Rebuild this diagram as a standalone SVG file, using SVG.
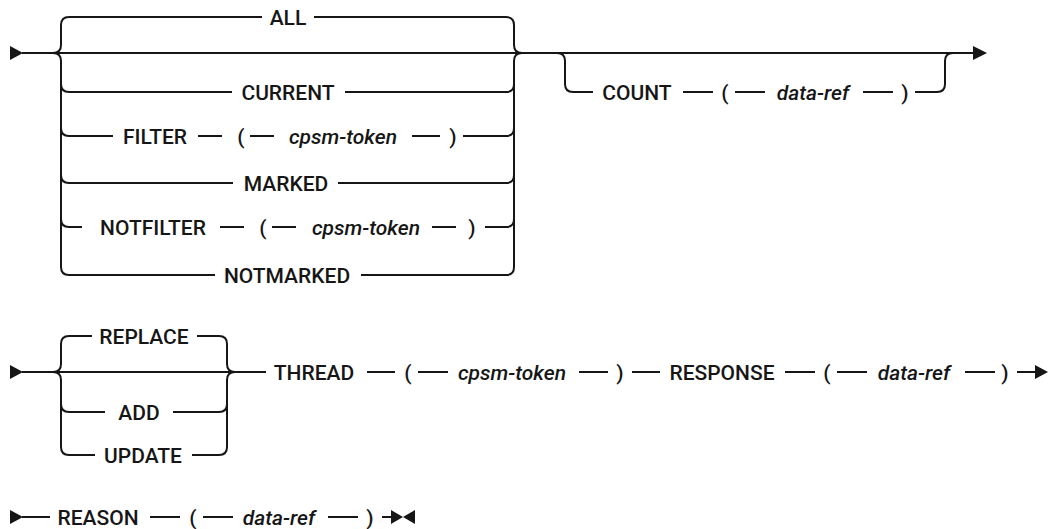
<svg xmlns="http://www.w3.org/2000/svg" width="1049" height="529" viewBox="0 0 1049 529">
<style>
  .ln{fill:none;stroke:#161616;stroke-width:2}
  .ah{fill:#161616;stroke:none}
  text{font-family:Roboto,"Liberation Sans",Arial,sans-serif;font-size:21px;font-weight:500;fill:#161616;text-anchor:middle}
  .it{font-style:italic}
</style>
<rect width="1049" height="529" fill="#ffffff"/>
<g id="connectors">
  <!-- diagram 1 -->
  <polygon class="ah" points="10,46 23,53 10,60"/>
  <path class="ln" d="M22,53 H975"/>
  <polygon class="ah" points="973,46 987,53 973,60"/>
  <!-- left brace -->
  <path class="ln" d="M53,53 Q61,53 61,45 V25 Q61,17 69,17 H262"/>
  <path class="ln" d="M53,53 Q61,53 61,61 V267 Q61,275 69,275 H215"/>
  <path class="ln" d="M61,84 Q61,92 69,92 H232"/>
  <path class="ln" d="M61,128 Q61,136 69,136 H113"/>
  <path class="ln" d="M61,175 Q61,183 69,183 H233"/>
  <path class="ln" d="M61,219 Q61,227 69,227 H82"/>
  <!-- right brace -->
  <path class="ln" d="M314,17 H506 Q514,17 514,25 V45 Q514,53 522,53"/>
  <path class="ln" d="M522,53 Q514,53 514,61 V267 Q514,275 506,275 H361"/>
  <path class="ln" d="M345,92 H506 Q514,92 514,84"/>
  <path class="ln" d="M463,136 H506 Q514,136 514,128"/>
  <path class="ln" d="M338,183 H506 Q514,183 514,175"/>
  <path class="ln" d="M485,227 H506 Q514,227 514,219"/>
  <!-- FILTER row dashes -->
  <path class="ln" d="M198,136 H222 M250,136 H274 M412,136 H440"/>
  <!-- NOTFILTER row dashes -->
  <path class="ln" d="M220,227 H244 M272,227 H296 M432,227 H456"/>
  <!-- COUNT branch -->
  <path class="ln" d="M557,53 Q565,53 565,61 V84 Q565,92 573,92 H593"/>
  <path class="ln" d="M683,92 H713 M735,92 H765 M863,92 H893"/>
  <path class="ln" d="M915,92 H937 Q945,92 945,84 V61 Q945,53 953,53"/>

  <!-- diagram 2 -->
  <polygon class="ah" points="10,365 23,372 10,379"/>
  <path class="ln" d="M22,372 H266"/>
  <path class="ln" d="M53,372 Q61,372 61,364 V344 Q61,336 69,336 H92"/>
  <path class="ln" d="M53,372 Q61,372 61,380 V447 Q61,455 69,455 H95"/>
  <path class="ln" d="M61,404 Q61,412 69,412 H105"/>
  <path class="ln" d="M197,336 H219 Q227,336 227,344 V364 Q227,372 235,372"/>
  <path class="ln" d="M235,372 Q227,372 227,380 V447 Q227,455 219,455 H192"/>
  <path class="ln" d="M173,412 H219 Q227,412 227,404"/>
  <path class="ln" d="M367,372 H395 M418,372 H448 M579,372 H608 M632,372 H660 M785,372 H815 M837,372 H867 M965,372 H995 M1017,372 H1037"/>
  <polygon class="ah" points="1035,365 1048,372 1035,379"/>

  <!-- diagram 3 -->
  <polygon class="ah" points="10,510 23,517 10,524"/>
  <path class="ln" d="M22,517 H50 M150,517 H180 M203,517 H233 M328,517 H358 M382,517 H394"/>
  <polygon class="ah" points="391,510 403,517 391,524"/>
  <polygon class="ah" points="415,510 403,517 415,524"/>
</g>

<g id="n-all"><text x="288" y="24.5">ALL</text></g>
<g id="n-current"><text x="288" y="99.5">CURRENT</text></g>
<g id="n-filter"><text x="155" y="143.5">FILTER</text><text x="241" y="143.5">(</text><text class="it" x="343" y="143.5">cpsm-token</text><text x="453" y="143.5">)</text></g>
<g id="n-marked"><text x="286" y="190.5">MARKED</text></g>
<g id="n-notfilter"><text x="153" y="234.5">NOTFILTER</text><text x="263" y="234.5">(</text><text class="it" x="366" y="234.5">cpsm-token</text><text x="472" y="234.5">)</text></g>
<g id="n-notmarked"><text x="287" y="282.5">NOTMARKED</text></g>
<g id="n-count"><text x="637" y="99.5">COUNT</text><text x="725" y="99.5">(</text><text class="it" x="813" y="99.5">data-ref</text><text x="905" y="99.5">)</text></g>

<g id="n-replace"><text x="144" y="343.5">REPLACE</text></g>
<g id="n-add"><text x="139" y="419.5">ADD</text></g>
<g id="n-update"><text x="143" y="462.5">UPDATE</text></g>
<g id="n-thread"><text x="314" y="379.5">THREAD</text><text x="408" y="379.5">(</text><text class="it" x="512" y="379.5">cpsm-token</text><text x="620" y="379.5">)</text></g>
<g id="n-response"><text x="722" y="379.5">RESPONSE</text><text x="827" y="379.5">(</text><text class="it" x="914" y="379.5">data-ref</text><text x="1005" y="379.5">)</text></g>

<g id="n-reason"><text x="98" y="524.5">REASON</text><text x="193" y="524.5">(</text><text class="it" x="279" y="524.5">data-ref</text><text x="370" y="524.5">)</text></g>
</svg>
